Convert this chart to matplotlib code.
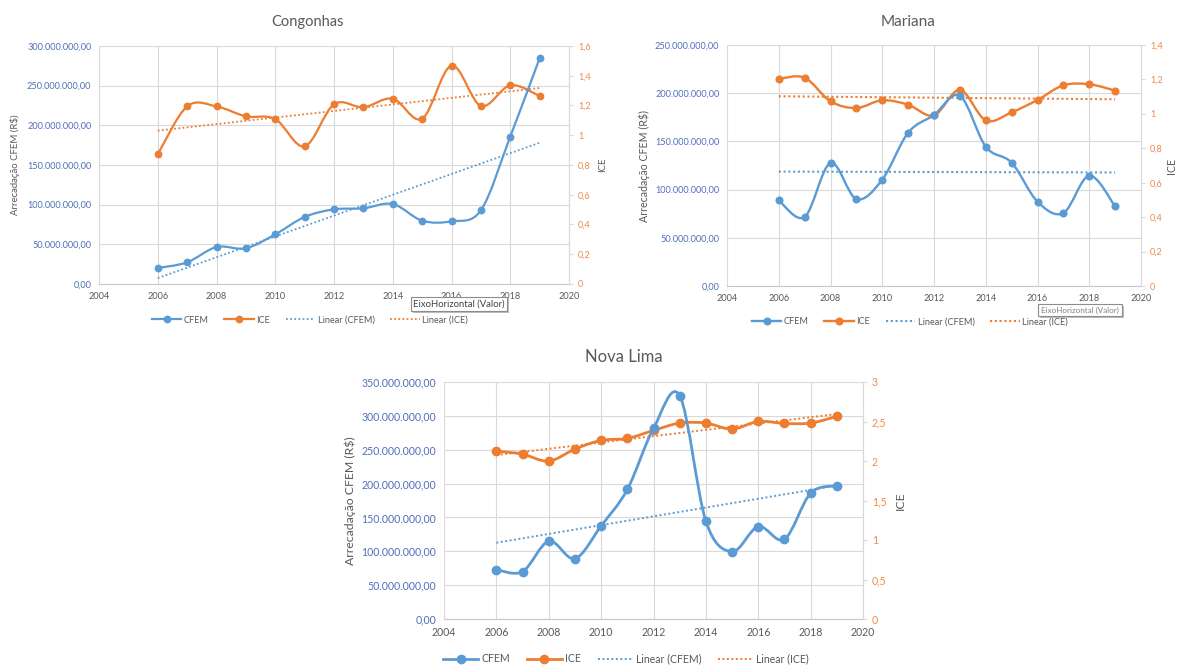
import numpy as np
import matplotlib
matplotlib.use("Agg")
import matplotlib.pyplot as plt
from matplotlib.path import Path
from matplotlib.patches import PathPatch, Rectangle
from matplotlib.lines import Line2D
from matplotlib.ticker import FuncFormatter

plt.rcParams['font.family'] = ['Lato', 'DejaVu Sans']

# ---------------------------------------------------------------- data
years = list(range(2006, 2020))

congonhas_cfem = [20.2e6, 27.3e6, 46.6e6, 45.0e6, 62.6e6, 84.5e6, 94.1e6,
                  95.4e6, 100.8e6, 79.8e6, 79.0e6, 92.9e6, 185.7e6, 284.5e6]
congonhas_ice = [0.872, 1.194, 1.194, 1.127, 1.109, 0.925, 1.208,
                 1.188, 1.246, 1.111, 1.468, 1.197, 1.336, 1.264]

mariana_cfem = [88.9e6, 71.6e6, 127.6e6, 90.2e6, 110.3e6, 159.0e6, 177.4e6,
                197.4e6, 144.5e6, 127.9e6, 87.5e6, 75.7e6, 114.5e6, 82.6e6]
mariana_ice = [1.203, 1.210, 1.073, 1.034, 1.079, 1.053, 0.991,
               1.139, 0.962, 1.009, 1.081, 1.166, 1.172, 1.135]

nova_lima_cfem = [73.0e6, 70.0e6, 114.9e6, 89.2e6, 137.5e6, 191.3e6, 281.5e6,
                  329.8e6, 144.4e6, 99.6e6, 136.5e6, 117.8e6, 185.8e6, 196.7e6]
nova_lima_ice = [2.125, 2.087, 1.999, 2.151, 2.261, 2.286, 2.387,
                 2.480, 2.480, 2.404, 2.501, 2.476, 2.480, 2.565]

titles = ["Congonhas", "Mariana", "Nova Lima"]
series_names = ["CFEM", "ICE", "Linear (CFEM)", "Linear (ICE)"]
left_label = "Arrecadação CFEM (R$)"
right_label = "ICE"
x_ticks = list(range(2004, 2021, 2))
tooltip_text = "EixoHorizontal (Valor)"

# ---------------------------------------------------------------- style
BLUE = "#5B9BD5"
ORANGE = "#ED7D31"
BLUE_TXT = "#4F6FBA"
ORANGE_TXT = "#EE8A4A"
GRAY_TXT = "#595959"
GRID = "#D9D9D9"

W, H = 1177, 666
fig = plt.figure(figsize=(W / 100, H / 100), dpi=100)


def px(x, y):
    """pixel position (from top-left) -> figure fraction"""
    return x / W, 1 - y / H


def rect(l, r, t, b):
    return [l / W, 1 - b / H, (r - l) / W, (b - t) / H]


def smooth_path(x, y):
    """Smoothed line through the points (cubic Bezier, Catmull-Rom style)."""
    x = np.asarray(x, float)
    y = np.asarray(y, float)
    n = len(x)
    verts = [(x[0], y[0])]
    codes = [Path.MOVETO]
    for i in range(n - 1):
        xp, yp = (x[i - 1], y[i - 1]) if i > 0 else (x[i], y[i])
        xn, yn = (x[i + 2], y[i + 2]) if i + 2 < n else (x[i + 1], y[i + 1])
        c1 = (x[i] + (x[i + 1] - xp) / 6, y[i] + (y[i + 1] - yp) / 6)
        c2 = (x[i + 1] - (xn - x[i]) / 6, y[i + 1] - (yn - y[i]) / 6)
        verts += [c1, c2, (x[i + 1], y[i + 1])]
        codes += [Path.CURVE4] * 3
    return Path(verts, codes)


def money_fmt(v, _):
    s = f"{v:,.2f}"
    return s.replace(",", "X").replace(".", ",").replace("X", ".")


def general_fmt(v, _):
    s = f"{v:.1f}".rstrip("0").rstrip(".")
    return s.replace(".", ",")


panels = [
    dict(title=titles[0], cfem=congonhas_cfem, ice=congonhas_ice,
         box=(99, 569, 46, 284), ymax=300e6, rmax=1.6, rstep=0.2,
         title_xy=(307, 22), ylabel_x=15, rlabel_x=603, legend_xy=(310, 320),
         fs=6.6, lfs=6.9, tfs=10.5, lw=1.6, ms=4.6, tlw=1.3,
         hlen=3.2, csp=1.7),
    dict(title=titles[1], cfem=mariana_cfem, ice=mariana_ice,
         box=(727, 1141, 45, 286), ymax=250e6, rmax=1.4, rstep=0.2,
         title_xy=(908, 22), ylabel_x=644, rlabel_x=1172, legend_xy=(910, 322),
         fs=6.6, lfs=7.7, tfs=11, lw=1.7, ms=4.8, tlw=1.5,
         hlen=3.2, csp=1.7),
    dict(title=titles[2], cfem=nova_lima_cfem, ice=nova_lima_ice,
         box=(444, 863, 382, 619), ymax=350e6, rmax=3.0, rstep=0.5,
         title_xy=(624, 357), ylabel_x=350, rlabel_x=900, legend_xy=(626, 659),
         fs=7.6, lfs=8.8, tfs=12, lw=2.0, ms=6.0, tlw=1.4,
         hlen=3.3, csp=1.6),
]

for p in panels:
    l, r, t, b = p["box"]
    ax = fig.add_axes(rect(l, r, t, b))
    ax2 = ax.twinx()
    ax.set_xlim(2004, 2020)
    ax.set_ylim(0, p["ymax"])
    ax2.set_ylim(0, p["rmax"])
    ax2.set_autoscale_on(False)
    ax.set_autoscale_on(False)

    ax.set_xticks(x_ticks)
    ax.set_yticks(np.arange(0, p["ymax"] + 1, 50e6))
    ax2.set_yticks(np.arange(0, p["rmax"] + 1e-9, p["rstep"]))
    ax.yaxis.set_major_formatter(FuncFormatter(money_fmt))
    ax2.yaxis.set_major_formatter(FuncFormatter(general_fmt))

    for s in list(ax.spines.values()) + list(ax2.spines.values()):
        s.set_visible(False)
    ax.spines["bottom"].set_visible(True)
    ax.spines["bottom"].set_color("#C8C8C8")
    ax2.spines["right"].set_visible(True)
    ax2.spines["right"].set_color(GRID)

    ax.grid(True, color=GRID, lw=0.8)
    ax.set_axisbelow(True)
    ax.tick_params(axis="x", length=0, pad=6, labelcolor=GRAY_TXT, labelsize=p["fs"])
    ax.tick_params(axis="y", length=0, pad=5.5, labelcolor=BLUE_TXT, labelsize=p["fs"])
    ax2.tick_params(axis="y", length=3, width=0.8, color=GRID, pad=3.5,
                    labelcolor=ORANGE_TXT, labelsize=p["fs"])

    x = np.array(years, float)
    cfem = np.array(p["cfem"])
    ice = np.array(p["ice"])

    # linear trendlines
    cf_fit = np.polyval(np.polyfit(x, cfem, 1), x)
    ic_fit = np.polyval(np.polyfit(x, ice, 1), x)
    dots = (0, (1, 1.3))
    ax2.plot(x, cf_fit, color=BLUE, lw=p["tlw"], ls=dots, transform=ax.transData, zorder=2)
    ax2.plot(x, ic_fit, color=ORANGE, lw=p["tlw"], ls=dots, zorder=2)

    # smoothed ICE series (secondary axis)
    ax2.add_patch(PathPatch(smooth_path(x, ice), fill=False, edgecolor=ORANGE,
                            lw=p["lw"], zorder=3, capstyle="round"))
    ax2.plot(x, ice, "o", color=ORANGE, ms=p["ms"], zorder=4, clip_on=False)

    # smoothed CFEM series (primary axis scale)
    ax2.add_patch(PathPatch(smooth_path(x, cfem), fill=False, edgecolor=BLUE,
                            lw=p["lw"], zorder=5, capstyle="round",
                            transform=ax.transData))
    ax2.plot(x, cfem, "o", color=BLUE, ms=p["ms"], zorder=6, clip_on=False,
             transform=ax.transData)

    # titles and axis labels
    fig.text(*px(*p["title_xy"]), p["title"], ha="center", va="center",
             fontsize=p["tfs"], color=GRAY_TXT)
    fig.text(*px(p["ylabel_x"], (t + b) / 2), left_label, rotation=90,
             ha="center", va="center", fontsize=p["lfs"], color=GRAY_TXT)
    fig.text(*px(p["rlabel_x"], (t + b) / 2), right_label, rotation=90,
             ha="center", va="center", fontsize=p["lfs"], color=GRAY_TXT)

    handles = [
        Line2D([], [], color=BLUE, lw=p["lw"], marker="o", ms=p["ms"]),
        Line2D([], [], color=ORANGE, lw=p["lw"], marker="o", ms=p["ms"]),
        Line2D([], [], color=BLUE, lw=p["tlw"], ls=dots),
        Line2D([], [], color=ORANGE, lw=p["tlw"], ls=dots),
    ]
    fig.legend(handles, series_names, loc="center", bbox_to_anchor=px(*p["legend_xy"]),
               ncol=4, frameon=False, fontsize=p["fs"], handlelength=p["hlen"],
               columnspacing=p["csp"], handletextpad=0.3, labelcolor=GRAY_TXT,
               borderaxespad=0, borderpad=0)


def tooltip(x0, y0, x1, y1, fs, color):
    sx, sy = px(x0 + 2, y1 + 2)
    fig.patches.append(Rectangle((sx, sy), (x1 - x0) / W, (y1 - y0) / H,
                                 transform=fig.transFigure, facecolor="#BDBDBD",
                                 edgecolor="none", zorder=20))
    bx, by = px(x0, y1)
    fig.patches.append(Rectangle((bx, by), (x1 - x0) / W, (y1 - y0) / H,
                                 transform=fig.transFigure, facecolor="white",
                                 edgecolor="#8C8C8C", lw=0.8, zorder=21))
    fig.text(*px((x0 + x1) / 2, (y0 + y1) / 2), tooltip_text, ha="center",
             va="center", fontsize=fs, color=color, zorder=22)


tooltip(411, 297, 507, 311, 6.8, "#404040")
tooltip(1038, 304, 1122, 316, 5.8, "#808080")

fig.savefig("out.png", dpi=100, facecolor="white")
